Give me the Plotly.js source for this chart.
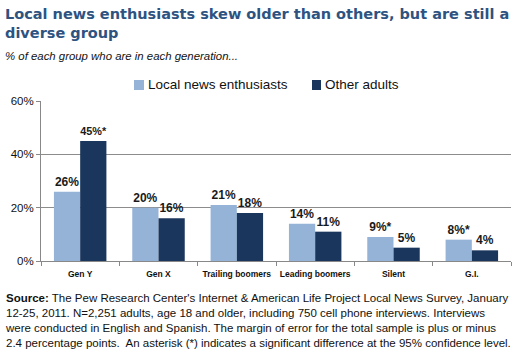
<!DOCTYPE html>
<html>
<head>
<meta charset="utf-8">
<script src="https://cdn.plot.ly/plotly-3.0.1.min.js"></script>
<style>html,body{margin:0;padding:0;background:#fff;}#chart{width:525px;height:362px;}</style>
</head>
<body>
<div id="chart"></div>
<script>
const categories = ["Gen Y", "Gen X", "Trailing boomers", "Leading boomers", "Silent", "G.I."];
const localNews = [26, 20, 21, 14, 9, 8];
const otherAdults = [45, 16, 18, 11, 5, 4];
const localLabels = ["26%", "20%", "21%", "14%", "9%*", "8%*"];
const otherLabels = ["45%*", "16%", "18%", "11%", "5%", "4%"];
const seriesNames = ["Local news enthusiasts", "Other adults"];
const seriesColors = ["#95B3D7", "#1B365D"];
const yTickVals = [0, 20, 40, 60];
const yTickText = ["0%", "20%", "40%", "60%"];

const FONT = "Liberation Sans, Arial, sans-serif";
const labelFont = {family: FONT, size: 12, color: "#1a1a1a", weight: "bold"};

const data = [
  {type: "bar", name: seriesNames[0], x: categories, y: localNews,
   marker: {color: seriesColors[0]}, text: localLabels, textposition: "outside",
   textfont: labelFont, cliponaxis: false, hoverinfo: "skip"},
  {type: "bar", name: seriesNames[1], x: categories, y: otherAdults,
   marker: {color: seriesColors[1]}, text: otherLabels, textposition: "outside",
   textfont: labelFont, cliponaxis: false, hoverinfo: "skip"}
];

// plot area: x 41..511 px, y 101..261 px
const px = v => (v - 41) / 470;
const py = v => (261 - v) / 160;

const layout = {
  width: 525, height: 362,
  margin: {l: 41, r: 14, t: 101, b: 101},
  paper_bgcolor: "#fff", plot_bgcolor: "#fff",
  barmode: "group", bargap: 0.33, bargroupgap: 0,
  showlegend: false,
  xaxis: {type: "category", showgrid: false, showline: true, linecolor: "#888", linewidth: 1,
    ticks: "outside", ticklen: 4, tickcolor: "#888", tickson: "boundaries", tickangle: 0,
    ticklabelstandoff: 5,
    tickfont: {family: FONT, size: 8.5, color: "#111", weight: "bold"},
    fixedrange: true},
  yaxis: {range: [0, 60], tickvals: yTickVals, ticktext: yTickText, showgrid: true,
    gridcolor: "#8c8c8c", gridwidth: 1, showline: true, linecolor: "#888", linewidth: 1,
    ticks: "outside", ticklen: 4, tickcolor: "#888", zeroline: false,
    tickfont: {family: FONT, size: 11.5, color: "#111"},
    fixedrange: true},
  shapes: [
    {type: "rect", xref: "paper", yref: "paper", x0: px(134), x1: px(144), y0: py(90), y1: py(80),
     fillcolor: seriesColors[0], line: {width: 0}},
    {type: "rect", xref: "paper", yref: "paper", x0: px(312), x1: px(321), y0: py(90), y1: py(80),
     fillcolor: seriesColors[1], line: {width: 0}}
  ],
  annotations: [
    {xref: "paper", yref: "paper", x: px(146), y: py(85), xanchor: "left", yanchor: "middle",
     showarrow: false, text: seriesNames[0], font: {family: FONT, size: 13.5, color: "#111"}},
    {xref: "paper", yref: "paper", x: px(323), y: py(85), xanchor: "left", yanchor: "middle",
     showarrow: false, text: seriesNames[1], font: {family: FONT, size: 13.5, color: "#111"}},
    {xref: "paper", yref: "paper", x: px(3), y: py(4), xanchor: "left", yanchor: "top", align: "left",
     showarrow: false,
     text: "<b>Local news enthusiasts skew older than others, but are still a<br>diverse group</b>",
     font: {family: "DejaVu Sans, Verdana, sans-serif", size: 14.5, color: "#2E5381"}},
    {xref: "paper", yref: "paper", x: px(3), y: py(48), xanchor: "left", yanchor: "top", align: "left",
     showarrow: false,
     text: "<i>% of each group who are in each generation...</i>",
     font: {family: FONT, size: 11.4, color: "#111"}},
    {xref: "paper", yref: "paper", x: px(3), y: py(290), xanchor: "left", yanchor: "top", align: "left",
     showarrow: false,
     text: "<b>Source:</b> The Pew Research Center's Internet &amp; American Life Project Local News Survey, January<br>12-25, 2011. N=2,251 adults, age 18 and older, including 750 cell phone interviews. Interviews<br>were conducted in English and Spanish. The margin of error for the total sample is plus or minus<br>2.4 percentage points.  An asterisk (*) indicates a significant difference at the 95% confidence level.",
     font: {family: FONT, size: 11.5, color: "#111"}}
  ]
};

Plotly.newPlot("chart", data, layout, {displayModeBar: false, staticPlot: true});
</script>
</body>
</html>
